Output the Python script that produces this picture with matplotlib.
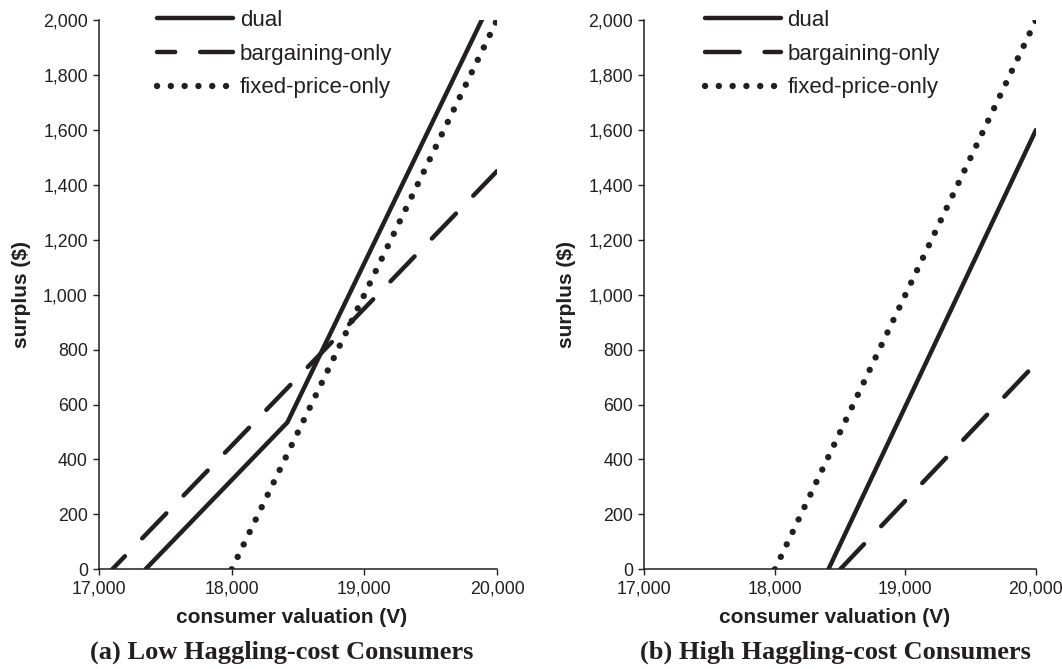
import matplotlib
matplotlib.use("Agg")
import matplotlib.pyplot as plt
from matplotlib.ticker import FuncFormatter

# ---- data ----
# (a) Low haggling-cost consumers
a_dual_v = [17350, 18420, 20000]
a_dual_s = [0, 535, 2115]
a_barg_v = [17100, 20000]
a_barg_s = [0, 1450]
a_fixed_v = [18000, 20000]
a_fixed_s = [0, 2000]
# (b) High haggling-cost consumers
b_dual_v = [18410, 20000]
b_dual_s = [0, 1600]
b_barg_v = [18500, 20000]
b_barg_s = [0, 750]
b_fixed_v = [18000, 20000]
b_fixed_s = [0, 2000]

series_labels = ["dual", "bargaining-only", "fixed-price-only"]
x_ticks = [17000, 18000, 19000, 20000]
y_ticks = list(range(0, 2001, 200))
titles = ["(a) Low Haggling-cost Consumers", "(b) High Haggling-cost Consumers"]
xlabel = "consumer valuation (V)"
ylabel = "surplus ($)"

INK = "#231f20"
plt.rcParams["font.family"] = ["Liberation Sans", "DejaVu Sans"]

fig = plt.figure(figsize=(10.62, 6.69), dpi=100)
axes = [fig.add_axes([0.0932, 0.149, 0.3748, 0.821]),
        fig.add_axes([0.6067, 0.149, 0.3688, 0.821])]
leg_x = [0.147, 0.155]
dash_off = [3.7, 0.0]
title_x = [0.265, 0.787]

panels = [
    (a_dual_v, a_dual_s, a_barg_v, a_barg_s, a_fixed_v, a_fixed_s),
    (b_dual_v, b_dual_s, b_barg_v, b_barg_s, b_fixed_v, b_fixed_s),
]

fmt = FuncFormatter(lambda v, p: f"{int(v):,}")

for ax, (dv, ds, bv, bs, fv, fs), title, lx, off, tx in zip(
        axes, panels, titles, leg_x, dash_off, title_x):
    ax.plot(dv, ds, color=INK, lw=3.2, solid_capstyle="round",
            solid_joinstyle="miter", label=series_labels[0])
    ax.plot(bv, bs, color=INK, lw=3.2, linestyle=(off, (7.8, 5.6)),
            dash_capstyle="round", label=series_labels[1])
    ax.plot(fv, fs, color=INK, lw=4.6, linestyle=(0, (0.01, 2.15)),
            dash_capstyle="round", label=series_labels[2])
    ax.set_xlim(17000, 20000)
    ax.set_ylim(0, 2000)
    ax.set_xticks(x_ticks)
    ax.set_yticks(y_ticks)
    ax.xaxis.set_major_formatter(fmt)
    ax.yaxis.set_major_formatter(fmt)
    for s in ["top", "right"]:
        ax.spines[s].set_visible(False)
    for s in ["left", "bottom"]:
        ax.spines[s].set_linewidth(1.1)
        ax.spines[s].set_color(INK)
    ax.tick_params(direction="out", length=4, width=1.0, color=INK,
                   labelcolor=INK, labelsize=12.8, pad=4)
    ax.set_xlabel(xlabel, fontsize=15, fontweight="bold", color=INK)
    ax.xaxis.set_label_coords(0.485, -0.07)
    ax.set_ylabel(ylabel, fontsize=15, fontweight="bold", color=INK, labelpad=9)
    leg = ax.legend(loc="upper left", bbox_to_anchor=(lx, 1.019), frameon=False,
                    fontsize=16, handlelength=3.4, handletextpad=0.3,
                    labelspacing=0.58, borderpad=0, borderaxespad=0)
    for t in leg.get_texts():
        t.set_color(INK)
    fig.text(tx, 1 - 652 / 669, title, ha="center", va="center",
             fontsize=19, fontweight="bold", family="Liberation Serif", color=INK)

fig.savefig("out.png", dpi=100)
